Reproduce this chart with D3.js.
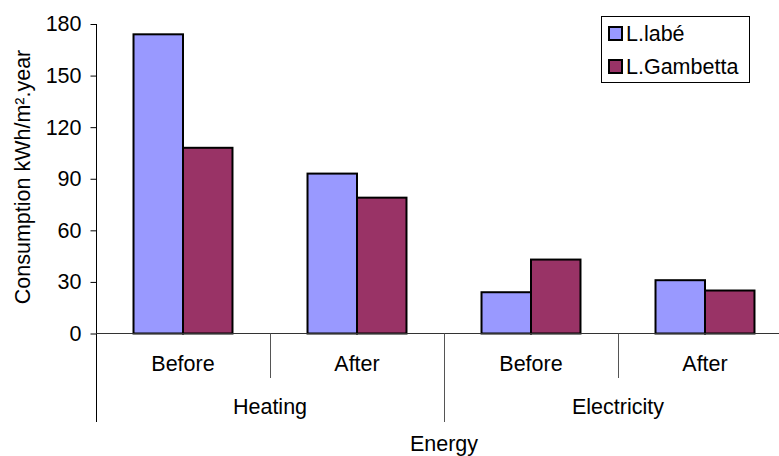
<!DOCTYPE html>
<html>
<head>
<meta charset="utf-8">
<script src="https://cdn.jsdelivr.net/npm/d3@7"></script>
<style>
  html, body { margin: 0; padding: 0; background: #fff; }
  text { font-family: "Liberation Sans", Arial, sans-serif; fill: #000; }
</style>
</head>
<body>
<svg id="chart" width="779" height="456"></svg>
<script>
// ---- data ----
const groups = ["Heating", "Electricity"];
const periods = ["Before", "After"];
const seriesNames = ["L.labé", "L.Gambetta"];
const labeValues = [174, 93, 24, 31];
const gambettaValues = [108, 79, 43, 25];
const yTicks = [0, 30, 60, 90, 120, 150, 180];
const yTitle = "Consumption kWh/m².year";
const xTitle = "Energy";
const seriesColors = ["#9999FF", "#993366"];

// ---- layout ----
const svg = d3.select("#chart");
const FS = 21.5;
const x0 = 96, x1 = 792, yBase = 333.5, yTop = 24;

const cats = [];
groups.forEach(g => periods.forEach(p => cats.push({ group: g, period: p, key: g + "|" + p })));
const values = [labeValues, gambettaValues];

const x = d3.scaleBand().domain(cats.map(c => c.key)).range([x0, x1]).paddingInner(0).paddingOuter(0);
const xs = d3.scaleBand().domain(seriesNames).range([0, x.bandwidth()]).paddingInner(0).paddingOuter(0.758);
const y = d3.scaleLinear().domain([0, 180]).range([yBase, yTop]);
const gx = d3.scaleBand().domain(groups).range([x0, x1]);

// bars
const barData = [];
cats.forEach((c, i) => seriesNames.forEach((s, j) => barData.push({ key: c.key, s, v: values[j][i], color: seriesColors[j] })));
svg.append("g").selectAll("rect").data(barData).join("rect")
  .attr("x", d => x(d.key) + xs(d.s))
  .attr("y", d => y(d.v))
  .attr("width", xs.bandwidth())
  .attr("height", d => yBase - y(d.v))
  .attr("fill", d => d.color)
  .attr("stroke", "#000")
  .attr("stroke-width", 2);

// y axis
const yAxis = d3.axisLeft(y).tickValues(yTicks).tickSize(6).tickPadding(9).tickFormat(d3.format("d"));
const ya = svg.append("g").attr("transform", `translate(${x0 + 0.5},0)`).call(yAxis);
ya.select(".domain").remove();
ya.selectAll(".tick line").attr("stroke", "#000");
ya.selectAll(".tick text").attr("font-size", FS).attr("font-family", "Liberation Sans, Arial, sans-serif").attr("fill", "#000");

// vertical left axis line (extends to bottom of group labels)
svg.append("line").attr("x1", x0 + 0.5).attr("x2", x0 + 0.5).attr("y1", yTop).attr("y2", 422).attr("stroke", "#000");

// x axis baseline
svg.append("line").attr("x1", x0).attr("x2", 779).attr("y1", yBase).attr("y2", yBase).attr("stroke", "#333");

// dividers between periods inside groups
groups.forEach(g => {
  const xp = x(g + "|" + periods[1]);
  svg.append("line").attr("x1", xp + 0.5).attr("x2", xp + 0.5).attr("y1", yBase).attr("y2", 378).attr("stroke", "#555");
});
// dividers between groups
groups.slice(1).forEach(g => {
  const xg = gx(g);
  svg.append("line").attr("x1", xg + 0.5).attr("x2", xg + 0.5).attr("y1", yBase).attr("y2", 422).attr("stroke", "#555");
});

// period labels
svg.append("g").selectAll("text").data(cats).join("text")
  .attr("x", d => x(d.key) + x.bandwidth() / 2)
  .attr("y", 371)
  .attr("text-anchor", "middle")
  .attr("font-size", FS)
  .text(d => d.period);

// group labels
svg.append("g").selectAll("text").data(groups).join("text")
  .attr("x", d => gx(d) + gx.bandwidth() / 2)
  .attr("y", 414)
  .attr("text-anchor", "middle")
  .attr("font-size", FS)
  .text(d => d);

// x title
svg.append("text").attr("x", gx(groups[1])).attr("y", 451).attr("text-anchor", "middle").attr("font-size", FS).text(xTitle);

// y title
svg.append("text")
  .attr("transform", `translate(30,177) rotate(-90)`)
  .attr("text-anchor", "middle")
  .attr("font-size", FS)
  .text(yTitle);

// legend
const lg = svg.append("g");
lg.append("rect").attr("x", 601.5).attr("y", 16.5).attr("width", 148).attr("height", 66).attr("fill", "#fff").attr("stroke", "#000");
seriesNames.forEach((s, i) => {
  const yy = 27 + i * 33;
  lg.append("rect").attr("x", 609).attr("y", yy).attr("width", 13).attr("height", 13)
    .attr("fill", seriesColors[i]).attr("stroke", "#000").attr("stroke-width", 2);
  lg.append("text").attr("x", 626).attr("y", yy + 14).attr("font-size", FS).text(s);
});
</script>
</body>
</html>
